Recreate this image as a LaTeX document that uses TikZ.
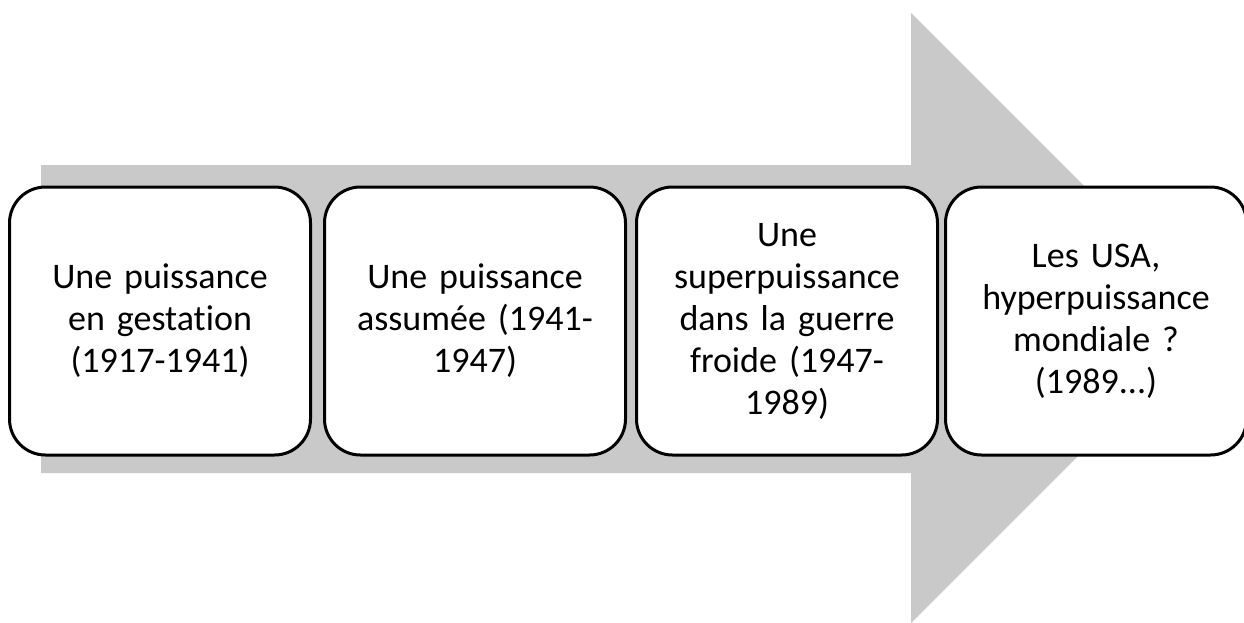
\documentclass[tikz,border=0pt]{standalone}
\usepackage{fontspec}
\setmainfont{Carlito}[Ligatures=NoCommon, WordSpace=0.7]
\definecolor{arrowgray}{RGB}{201,201,201}
\begin{document}
\begin{tikzpicture}[x=1pt,y=-1pt,
  stage/.style={draw=black, line width=3pt, fill=white, rounded corners=36pt,
    minimum width=301pt, minimum height=268pt, align=center, inner sep=0pt,
    font=\fontsize{36}{42}\selectfont, text width=295pt}]
\useasboundingbox (0,0) rectangle (1244,623);
\fill[arrowgray] (41,165) -- (911,165) -- (911,13) -- (1216,318) -- (911,623) -- (911,473) -- (41,473) -- cycle;
\node[stage] (s1) at (160,321) {Une puissance\\en gestation\\(1917-1941)};
\node[stage] (s2) at (475,321) {Une puissance\\assumée (1941-\\1947)};
\node[stage] (s3) at (787,321) {Une\\superpuissance\\dans la guerre\\froide (1947-\\1989)};
\node[stage] (s4) at (1096,321) {Les USA,\\hyperpuissance\\mondiale ?\\(1989...)};
\end{tikzpicture}
\end{document}
